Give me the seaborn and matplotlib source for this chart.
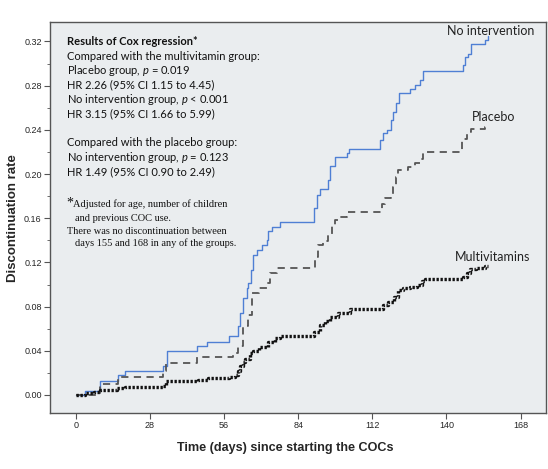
import numpy as np
import pandas as pd
import matplotlib
matplotlib.use("Agg")
import matplotlib.pyplot as plt
import seaborn as sns
from matplotlib.ticker import MultipleLocator

# ---- data (days, cumulative discontinuation rate) ----
none_days = [0, 3.5, 9, 16, 18.5, 33, 34.3, 45.6, 49.6, 58, 61.4, 62, 63.2, 64.5, 65, 66,
             67, 68.3, 70.2, 72, 72.7, 74, 77, 90, 91, 92.2, 95.1, 96, 97.9, 102.3, 103.3,
             114.9, 115.9, 117.4, 119, 119.9, 120.8, 122, 126.2, 128.1, 130, 131, 146.1,
             147, 148.3, 149.3, 154.6, 155.5]
none_rate = [0, 0.004, 0.013, 0.018, 0.022, 0.026, 0.040, 0.044, 0.048, 0.053, 0.062, 0.074,
             0.0875, 0.0965, 0.101, 0.113, 0.127, 0.131, 0.136, 0.140, 0.148, 0.152, 0.157,
             0.169, 0.181, 0.186, 0.195, 0.207, 0.215, 0.219, 0.223, 0.231, 0.237, 0.240,
             0.249, 0.256, 0.264, 0.273, 0.277, 0.281, 0.285, 0.293, 0.299, 0.306, 0.309,
             0.318, 0.321, 0.325]

placebo_days = [0, 9, 16, 33, 34, 45.6, 59.5, 61.4, 63.2, 65, 66.4, 69, 72, 73.3, 75.8, 90.3,
                91.6, 93.5, 95.4, 96.6, 98, 99.8, 102.3, 115.5, 116.8, 119, 119.9, 120.8,
                121.8, 125.6, 128.1, 130, 131.3, 131.9, 146, 147.6, 149.1, 154.6, 155.5]
placebo_rate = [0, 0.010, 0.016, 0.022, 0.029, 0.034, 0.038, 0.044, 0.062, 0.072, 0.092,
                0.0965, 0.101, 0.110, 0.1146, 0.125, 0.136, 0.139, 0.146, 0.154, 0.158, 0.161,
                0.166, 0.173, 0.178, 0.182, 0.188, 0.1975, 0.204, 0.206, 0.210, 0.214, 0.219,
                0.220, 0.232, 0.238, 0.241, 0.243, 0.243]

multi_days = [0, 3.4, 7, 9, 15.5, 18.5, 33, 34, 46, 50, 58, 60, 61.4, 62, 63, 64, 65.8, 67,
              69, 72.7, 75.2, 77, 90, 92.2, 94, 96, 99, 103.5, 116, 118, 120, 121.8, 123.7,
              126.2, 128.7, 130.6, 131.9, 146.4, 147.6, 148.9, 151, 154.6, 155.5]
multi_rate = [0, 0.0015, 0.003, 0.0045, 0.006, 0.0075, 0.0085, 0.0125, 0.014, 0.015, 0.016,
              0.018, 0.022, 0.026, 0.030, 0.033, 0.0376, 0.040, 0.0437, 0.048, 0.052, 0.053,
              0.057, 0.063, 0.067, 0.071, 0.074, 0.0775, 0.0814, 0.0845, 0.089, 0.095, 0.0965,
              0.098, 0.0995, 0.103, 0.105, 0.107, 0.110, 0.114, 0.1146, 0.117, 0.117]

group_labels = ["No intervention", "Placebo", "Multivitamins"]
x_ticks = [0, 28, 56, 84, 112, 140, 168]
y_ticks = [0.00, 0.04, 0.08, 0.12, 0.16, 0.20, 0.24, 0.28, 0.32]

cox_lines = [
    ("Results of Cox regression*", "bold"),
    ("Compared with the multivitamin group:", "normal"),
    ("Placebo group, $p$ = 0.019", "normal"),
    ("HR 2.26 (95% CI 1.15 to 4.45)", "normal"),
    ("No intervention group, $p$ < 0.001", "normal"),
    ("HR 3.15 (95% CI 1.66 to 5.99)", "normal"),
    ("", "normal"),
    ("Compared with the placebo group:", "normal"),
    ("No intervention group, $p$ = 0.123", "normal"),
    ("HR 1.49 (95% CI 0.90 to 2.49)", "normal"),
]

# ---- style ----
sns.set_style("ticks", {"axes.facecolor": "#eaedef", "axes.edgecolor": "#555555"})
plt.rcParams['font.family'] = ['Liberation Sans', 'DejaVu Sans']
plt.rcParams['mathtext.fontset'] = 'custom'
plt.rcParams['mathtext.rm'] = 'Lato'
plt.rcParams['mathtext.it'] = 'Lato:italic'

W, H = 548, 469
fig = plt.figure(figsize=(W / 100, H / 100), dpi=100)
ax = fig.add_axes([50 / W, 1 - 413 / H, 496 / W, 391 / H])

sns.lineplot(x=none_days, y=none_rate, ax=ax, drawstyle='steps-post', estimator=None,
             color='#4f7fd4', linewidth=1.0, sort=False)
sns.lineplot(x=placebo_days, y=placebo_rate, ax=ax, drawstyle='steps-post', estimator=None,
             color='#555555', linewidth=1.3, linestyle=(0, (4, 3)), sort=False)
sns.lineplot(x=multi_days, y=multi_rate, ax=ax, drawstyle='steps-post', estimator=None,
             color='#111111', linewidth=2.4, linestyle=(0, (0.7, 0.5)), sort=False,
             dash_capstyle='butt')

ax.set_xlim(-9.8, 177.6)
ax.set_ylim(-0.0163, 0.3376)
ax.set_xticks(x_ticks)
ax.set_yticks(y_ticks)
ax.set_yticklabels([f"{v:.2f}" for v in y_ticks])
ax.yaxis.set_minor_locator(MultipleLocator(0.02))
ax.tick_params(axis='both', which='major', length=4, width=0.8, color='#555555',
               labelsize=6.5, pad=2)
ax.tick_params(axis='y', which='minor', length=2, width=0.6, color='#555555')
for s in ax.spines.values():
    s.set_linewidth(1.0)

ax.set_xlabel("Time (days) since starting the COCs", fontsize=9.1, fontweight='bold')
ax.set_ylabel("Discontinuation rate", fontsize=9.5, fontweight='bold')
ax.xaxis.set_label_coords((285 - 50) / 496, (413 - 448) / 391)
ax.yaxis.set_label_coords((13 - 50) / 496, (413 - 218) / 391)
ax.xaxis.label.set_va('center')
ax.yaxis.label.set_va('center')

# curve labels
label_pos = [(491, 31), (494, 117), (493, 257)]
for lab, (px, py) in zip(group_labels, label_pos):
    fig.text(px / W, 1 - py / H, lab, ha='center', va='center', fontsize=9,
             family='Lato', color='#222222')

# Cox regression box (baselines)
y0, dy = 45, 14.5
for i, (line, w) in enumerate(cox_lines):
    if line:
        fig.text(67 / W, 1 - (y0 + i * dy) / H, line, ha='left', va='baseline',
                 fontsize=8, family='Lato', fontweight=w, color='#111111')

# footnote
fig.text(66 / W, 1 - 207 / H, "*", ha='left', va='baseline', fontsize=10,
         family='Liberation Serif', color='#111111')
foot = [("Adjusted for age, number of children", 73, 207),
        ("and previous COC use.", 75, 221),
        ("There was no discontinuation between", 67, 234),
        ("days 155 and 168 in any of the groups.", 75, 246)]
for line, px, py in foot:
    fig.text(px / W, 1 - py / H, line, ha='left', va='baseline', fontsize=7.5,
             family='Liberation Serif', color='#111111')

fig.savefig("out.png", dpi=100)
